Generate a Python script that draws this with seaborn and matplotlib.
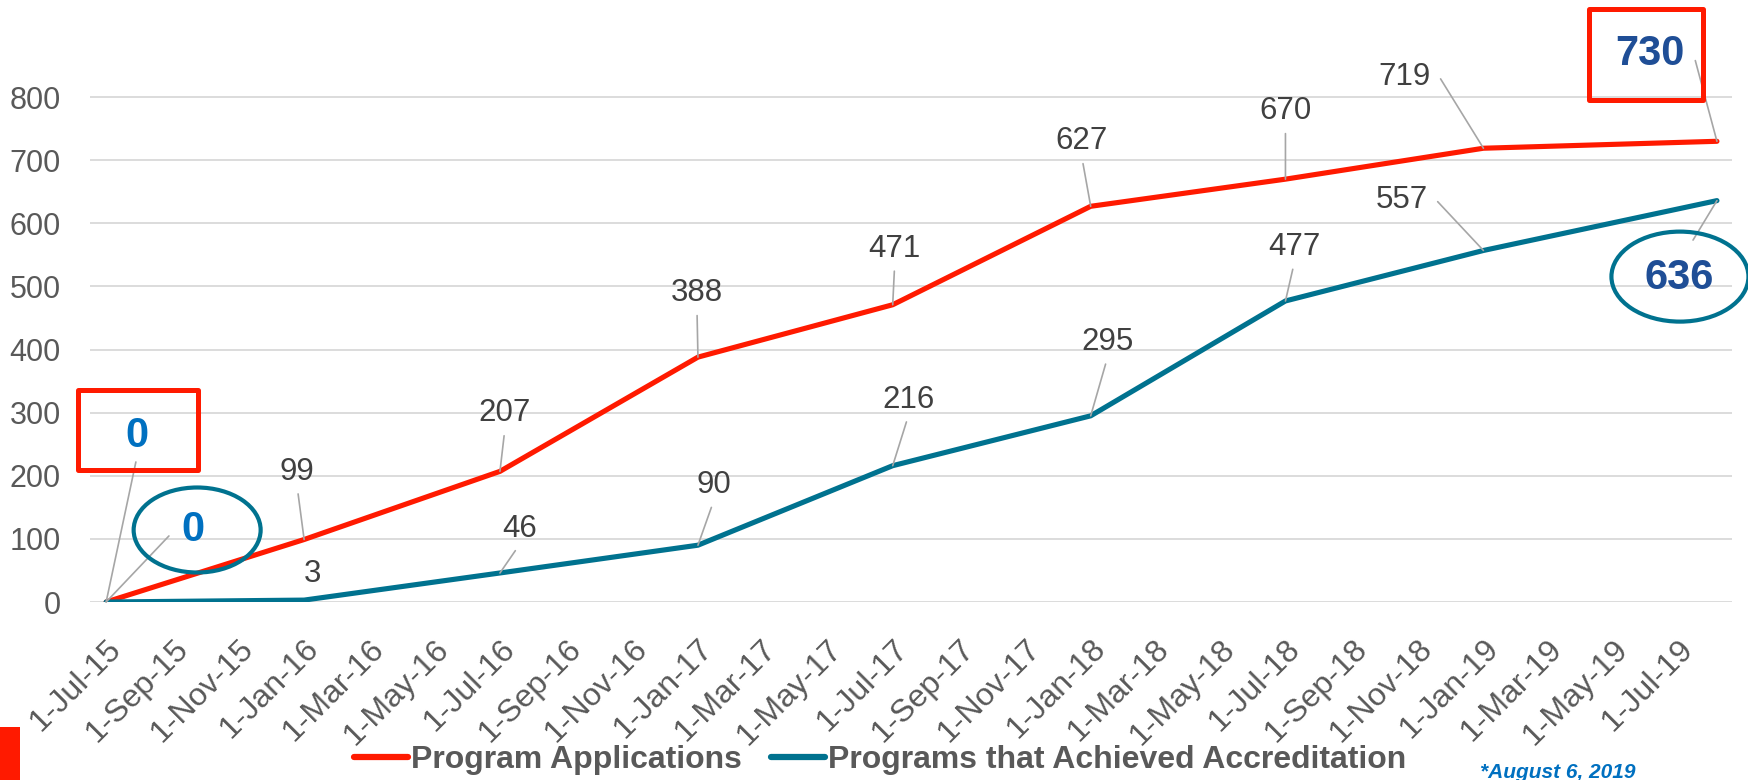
import numpy as np
import pandas as pd
import seaborn as sns
import matplotlib.pyplot as plt
from matplotlib.patches import Rectangle, Ellipse
from matplotlib.transforms import IdentityTransform, ScaledTranslation

# data
dates = pd.to_datetime(["2015-07-01", "2016-01-01", "2016-07-01", "2017-01-01",
                        "2017-07-01", "2018-01-01", "2018-07-01", "2019-01-01",
                        "2019-08-06"])
applications = [0, 99, 207, 388, 471, 627, 670, 719, 730]
accredited = [0, 3, 46, 90, 216, 295, 477, 557, 636]
series_names = ["Program Applications", "Programs that Achieved Accreditation"]
tick_dates = pd.date_range("2015-07-01", "2019-07-01", freq="2MS")
tick_labels = [f"{d.day}-{d:%b-%y}" for d in tick_dates]
y_ticks = [0, 100, 200, 300, 400, 500, 600, 700, 800]

# label offsets from each point, in pixels (dx, dy up)
app_offsets = [(31, 166), (-7, 68), (5, 58), (-1, 64), (2, 56), (-9, 65), (0, 68), (-79, 71), (-67, 87)]
acc_offsets = [(87, 72), (8, 26), (20, 44), (16, 60), (16, 66), (17, 74), (9, 54), (-82, 50), (-38, -77)]

RED = "#FF1A00"
TEAL = "#00728F"
GRID = "#D9D9D9"
LABEL = "#404040"
AXIS_TXT = "#595959"
LEADER = "#A6A6A6"

sns.set_theme(style="white")
plt.rcParams["font.family"] = ["Liberation Sans", "DejaVu Sans"]

df = pd.DataFrame({
    "date": list(dates) * 2,
    "count": applications + accredited,
    "series": [series_names[0]] * len(dates) + [series_names[1]] * len(dates),
})

fig = plt.figure(figsize=(17.49, 7.8), dpi=100)
ax = fig.add_axes([90 / 1749, 178 / 780, 1642 / 1749, 568 / 780])

sns.lineplot(data=df, x="date", y="count", hue="series", palette=[RED, TEAL],
             linewidth=3.7, ax=ax, legend=False, solid_capstyle="round",
             solid_joinstyle="round")

ax.set_xlim(dates[0] - pd.Timedelta(days=15), dates[-1] + pd.Timedelta(days=14))
ax.set_ylim(0, 900)
ax.set_yticks(y_ticks)
ax.set_xticks(tick_dates)
ax.set_xticklabels(tick_labels, rotation=45, ha="right", va="top",
                   rotation_mode="anchor", fontsize=23, color=AXIS_TXT)
shift = ScaledTranslation(6 / 100, 0, fig.dpi_scale_trans)
for lbl in ax.get_xticklabels():
    lbl.set_transform(lbl.get_transform() + shift)
ax.tick_params(axis="x", length=0, pad=23)
ax.tick_params(axis="y", length=0, pad=21, labelsize=22, labelcolor=AXIS_TXT)
ax.set_xlabel("")
ax.set_ylabel("")
for s in ax.spines.values():
    s.set_visible(False)
ax.grid(axis="y", color=GRID, linewidth=1.3)
ax.grid(axis="x", visible=False)
ax.set_axisbelow(True)


def label(x, y, text, off, big=None, leader=True, relpos=(0.5, 0), shrink=3, conn="arc3"):
    kw = dict(fontsize=22.5, color=LABEL)
    if big:
        kw = dict(fontsize=30, color=big, fontweight="bold")
    arrow = None
    if leader:
        arrow = dict(arrowstyle="-", color=LEADER, lw=1.2, relpos=relpos,
                     shrinkA=shrink, shrinkB=0, connectionstyle=conn)
    ax.annotate(text, xy=(x, y), xytext=off, textcoords="offset pixels",
                ha="center", va="center", arrowprops=arrow, **kw, zorder=5)


stub_left = "arc,angleA=0,armA=9,angleB=0,armB=0,rad=0"
stub_right = "arc,angleA=180,armA=7,angleB=0,armB=0,rad=0"

for i, (d, v) in enumerate(zip(dates, applications)):
    if i == 0:
        label(d, v, str(v), app_offsets[i], big="#0070C0", shrink=2)
    elif i == len(dates) - 1:
        label(d, v, str(v), app_offsets[i], big="#1F4E96", relpos=(1, 0.5), shrink=7, conn=stub_left)
    elif i == len(dates) - 2:
        label(d, v, str(v), app_offsets[i], relpos=(1, 0.5), shrink=5, conn=stub_left)
    else:
        label(d, v, str(v), app_offsets[i])

for i, (d, v) in enumerate(zip(dates, accredited)):
    if i == 0:
        label(d, v, str(v), acc_offsets[i], big="#0070C0", relpos=(0, 0.5), shrink=8, conn=stub_right)
    elif i == 1:
        label(d, v, str(v), acc_offsets[i], leader=False)
    elif i == len(dates) - 1:
        label(d, v, str(v), acc_offsets[i], big="#1F4E96", relpos=(0.55, 1), shrink=12)
    elif i == len(dates) - 2:
        label(d, v, str(v), acc_offsets[i], relpos=(1, 0.5), shrink=5, conn=stub_left)
    else:
        label(d, v, str(v), acc_offsets[i])

# highlight boxes / ellipses anchored to the first and last points
fig.canvas.draw()
to_px = ax.transData


def px(d, v):
    return to_px.transform((ax.convert_xunits(d), v))


x0, y0 = px(dates[0], applications[0])
fig.add_artist(Rectangle((x0 - 28, y0 + 132), 120, 80, transform=IdentityTransform(),
                         fill=False, ec=RED, lw=3.6, joinstyle="round"))
x1, y1 = px(dates[-1], applications[-1])
fig.add_artist(Rectangle((x1 - 128, y1 + 41), 114, 91, transform=IdentityTransform(),
                         fill=False, ec=RED, lw=3.6, joinstyle="round"))
x2, y2 = px(dates[0], accredited[0])
fig.add_artist(Ellipse((x2 + 91, y2 + 72), 127, 85, transform=IdentityTransform(),
                       fill=False, ec=TEAL, lw=3.0))
x3, y3 = px(dates[-1], accredited[-1])
fig.add_artist(Ellipse((x3 - 37, y3 - 76), 137, 90, transform=IdentityTransform(),
                       fill=False, ec=TEAL, lw=3.0))

# legend
handles = ax.get_lines()[:2]
leg = fig.legend(handles, series_names, loc="center", bbox_to_anchor=(880 / 1749, 20 / 780),
                 ncol=2, frameon=False, handlelength=1.7, handletextpad=0.1,
                 columnspacing=0.9, prop=dict(size=23, weight="bold"))
for t in leg.get_texts():
    t.set_color(AXIS_TXT)
for h in leg.get_lines():
    h.set_linewidth(4.5)
    h.set_solid_capstyle("round")

fig.text(1480 / 1749, 17 / 780, "*August 6, 2019", ha="left", va="top", fontsize=15,
         fontweight="bold", fontstyle="italic", color="#0070C0")
fig.add_artist(Rectangle((0, 0), 20 / 1749, 53 / 780, transform=fig.transFigure,
                         color=RED, lw=0))

fig.savefig("out.png", dpi=100)
